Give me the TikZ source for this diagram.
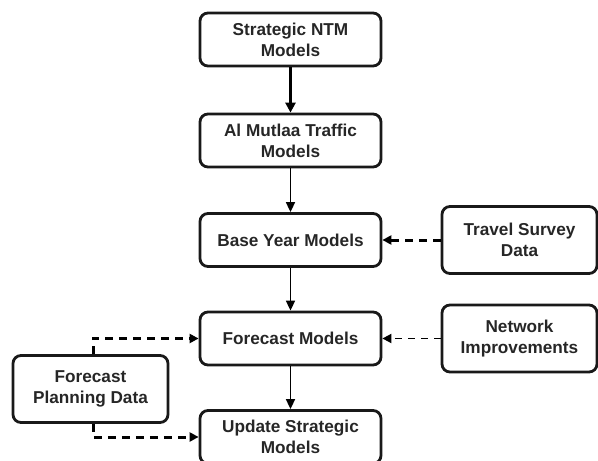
\documentclass[tikz,border=0pt]{standalone}
\usepackage{fontspec}
\setmainfont{Liberation Sans}
\usetikzlibrary{arrows.meta,calc}
\begin{document}
\begin{tikzpicture}[x=1pt,y=-1pt,
  box/.style={draw=black!90, line width=2.8pt, rounded corners=8pt, align=center,
    font=\fontsize{17.2}{21}\selectfont\bfseries, text=black!85, inner sep=0pt},
  mainbox/.style={box, minimum width=181pt, minimum height=53pt},
  sidebox/.style={box, minimum width=155pt, minimum height=67pt},
  thickarr/.style={line width=3pt, -{Triangle[length=10pt,width=10pt]}},
  thinarr/.style={line width=1.7pt, -{Triangle[length=10pt,width=9pt]}},
  dasharr/.style={line width=3pt, dash pattern=on 8pt off 6pt, -{Triangle[length=9pt,width=9pt]}},
  dashthin/.style={line width=1.8pt, dash pattern=on 7pt off 6pt, -{Triangle[length=9pt,width=9pt]}}
]
\useasboundingbox (0,0) rectangle (598,461);
\node[mainbox] (ntm) at (290.5,39.5) {Strategic NTM\\Models};
\node[mainbox] (alm) at (290.5,140.5) {Al Mutlaa Traffic\\Models};
\node[mainbox] (base) at (290.5,240) {Base Year Models};
\node[mainbox] (fc) at (290.5,338.5) {Forecast Models};
\node[mainbox] (upd) at (290.5,437) {Update Strategic\\Models};
\node[sidebox] (trav) at (519.5,240) {Travel Survey\\Data};
\node[sidebox] (net) at (519.5,338.5) {Network\\Improvements};
\node[sidebox] (fpd) at (90.5,389) {Forecast\\Planning Data};
\draw[thickarr] (ntm) -- (alm);
\draw[thinarr] (alm) -- (base);
\draw[thinarr] (base) -- (fc);
\draw[thinarr] (fc) -- (upd);
\draw[dasharr] (trav) -- (base);
\draw[dashthin] (net) -- (fc);
\draw[dasharr] ([xshift=2.5pt]fpd.north) |- (fc.west);
\draw[dasharr] ([xshift=2.5pt]fpd.south) |- (upd.west);
\end{tikzpicture}
\end{document}
